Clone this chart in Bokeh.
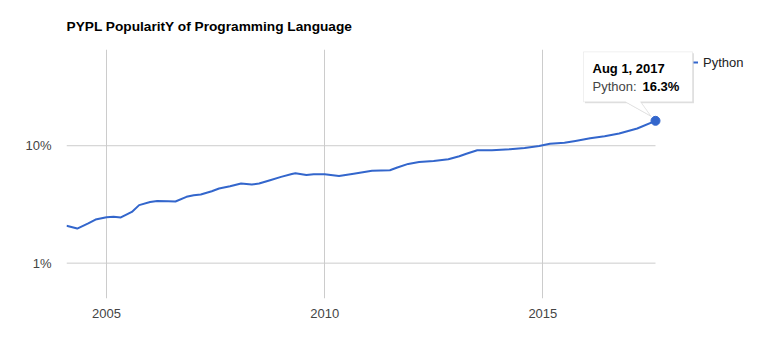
import math
from datetime import datetime
from bokeh.plotting import figure
from bokeh.models import (Range1d, FixedTicker, PrintfTickFormatter, DatetimeTickFormatter,
                          Legend, LegendItem, Label, PolyAnnotation)
from bokeh.embed import file_html
from bokeh.resources import INLINE

title = "PYPL PopularitY of Programming Language"
series_name = "Python"
dates = ["2004-02", "2004-05", "2004-08", "2004-10",
         "2005-01", "2005-03", "2005-05", "2005-08", "2005-10",
         "2006-01", "2006-03", "2006-06", "2006-08", "2006-11",
         "2007-01", "2007-03", "2007-06", "2007-08", "2007-11",
         "2008-02", "2008-05", "2008-07", "2008-10",
         "2009-01", "2009-04", "2009-05", "2009-08", "2009-10",
         "2010-01", "2010-05", "2010-09",
         "2011-02", "2011-07", "2011-09", "2011-12",
         "2012-03", "2012-07", "2012-11",
         "2013-02", "2013-04", "2013-07", "2013-11",
         "2014-04", "2014-08", "2014-12",
         "2015-03", "2015-07", "2015-10",
         "2016-02", "2016-06", "2016-10",
         "2017-03", "2017-08"]
values = [2.08, 1.97, 2.18, 2.35,
          2.46, 2.48, 2.45, 2.73, 3.12,
          3.32, 3.39, 3.37, 3.35, 3.67,
          3.79, 3.84, 4.10, 4.32, 4.52,
          4.77, 4.67, 4.77, 5.09,
          5.43, 5.75, 5.83, 5.64, 5.72,
          5.72, 5.53, 5.78,
          6.13, 6.18, 6.52, 7.00,
          7.27, 7.42, 7.67,
          8.14, 8.55, 9.16, 9.16,
          9.34, 9.58, 9.96,
          10.40, 10.61, 10.99,
          11.59, 12.05, 12.70,
          14.01, 16.3]
x_tick_years = [2005, 2010, 2015]
y_ticks = [1, 10]

EPOCH = datetime(1970, 1, 1)
def ms(d):
    return (d - EPOCH).total_seconds() * 1000.0

dts = [datetime.strptime(d, "%Y-%m") for d in dates]
xs = [ms(d) for d in dts]
year_ticks = [ms(datetime(y, 1, 1)) for y in x_tick_years]

FONT = "Liberation Sans"
BLUE = "#3366cc"
DATA_W = 589          # pixel width of the data area
EXTRA_W = 100         # room at the right for tooltip and legend
FW, FH = DATA_W + EXTRA_W, 249
Y0, Y1 = 0.5, 66

dx = (xs[-1] - xs[0]) / DATA_W
dly = (math.log10(Y1) - math.log10(Y0)) / FH

p = figure(x_axis_type="datetime", y_axis_type="log",
           x_range=Range1d(xs[0], xs[-1] + EXTRA_W * dx), y_range=Range1d(Y0, Y1),
           frame_width=FW, frame_height=FH,
           min_border_left=66, min_border_right=5, min_border_top=49, min_border_bottom=50,
           output_backend="svg", toolbar_location=None, title=title)
p.outline_line_color = None
p.background_fill_color = "white"
p.border_fill_color = "white"

p.title.text_font = FONT
p.title.text_font_size = "13.7px"
p.title.text_font_style = "bold"
p.title.text_color = "#000000"
p.title.align = "left"
p.title.vertical_align = "top"
p.title.standoff = 28

for ax in (p.xaxis[0], p.yaxis[0]):
    ax.axis_line_color = None
    ax.major_tick_line_color = None
    ax.minor_tick_line_color = None
    ax.major_tick_out = 0
    ax.major_tick_in = 0
    ax.minor_tick_out = 0
    ax.major_label_text_font = FONT
    ax.major_label_text_font_size = "13px"
    ax.major_label_text_color = "#444444"

p.xaxis.ticker = FixedTicker(ticks=year_ticks, minor_ticks=[])
p.xaxis.formatter = DatetimeTickFormatter(years="%Y", months="%Y", days="%Y")
p.xaxis.major_label_standoff = 10
p.yaxis.ticker = FixedTicker(ticks=y_ticks, minor_ticks=[])
p.yaxis.formatter = PrintfTickFormatter(format="%d%%")
p.yaxis.major_label_standoff = 15

p.xgrid.grid_line_color = "#cccccc"
p.ygrid.visible = False
# horizontal gridlines only across the data span
p.segment(x0=[xs[0]] * len(y_ticks), x1=[xs[-1]] * len(y_ticks), y0=y_ticks, y1=y_ticks,
          line_color="#cccccc", line_width=1)

line = p.line(xs, values, line_color=BLUE, line_width=2, line_join="round")

# legend glyph partly hidden behind the tooltip in the original: only its right end shows
legend = Legend(items=[LegendItem(label=series_name, renderers=[line])],
                location=(627, 226), margin=0, padding=0, spacing=0,
                glyph_width=5, glyph_height=20, label_height=20, label_standoff=5,
                label_text_font=FONT, label_text_font_size="13px", label_text_color="#222222",
                border_line_color=None, background_fill_alpha=0)
p.add_layout(legend)

lx, ly = xs[-1], values[-1]
def at(ox, oy):
    return lx + ox * dx, 10 ** (math.log10(ly) + oy * dly)

# tooltip box with pointer, offsets in pixels from the last data point
shape = [(-72, 69), (37, 69), (37, 19), (-15, 19), (-5, 5), (-30, 19), (-72, 19)]
shadow = [at(ox + 1.5, oy - 1.5) for ox, oy in shape]
outline = [at(ox, oy) for ox, oy in shape]
p.add_layout(PolyAnnotation(xs=[s[0] for s in shadow], ys=[s[1] for s in shadow],
                            fill_color="#000000", fill_alpha=0.12, line_color=None,
                            level="overlay"))
p.add_layout(PolyAnnotation(xs=[s[0] for s in outline], ys=[s[1] for s in outline],
                            fill_color="white", fill_alpha=1, line_color="#cccccc", line_width=1,
                            level="overlay"))

p.scatter([lx], [ly], size=9, color=BLUE)

date_txt = dts[-1].strftime("%b %-d, %Y")
val_txt = f"{values[-1]}%"
p.add_layout(Label(x=lx, y=ly, x_offset=-63, y_offset=52, text=date_txt,
                   text_font=FONT, text_font_size="13px", text_font_style="bold",
                   text_color="#000000", text_align="left", text_baseline="middle",
                   level="overlay"))
p.add_layout(Label(x=lx, y=ly, x_offset=-63, y_offset=34, text=series_name + ":",
                   text_font=FONT, text_font_size="13px",
                   text_color="#444444", text_align="left", text_baseline="middle",
                   level="overlay"))
p.add_layout(Label(x=lx, y=ly, x_offset=-13, y_offset=34, text=val_txt,
                   text_font=FONT, text_font_size="13px", text_font_style="bold",
                   text_color="#000000", text_align="left", text_baseline="middle",
                   level="overlay"))

open("out.html", "w").write(file_html(p, INLINE))
